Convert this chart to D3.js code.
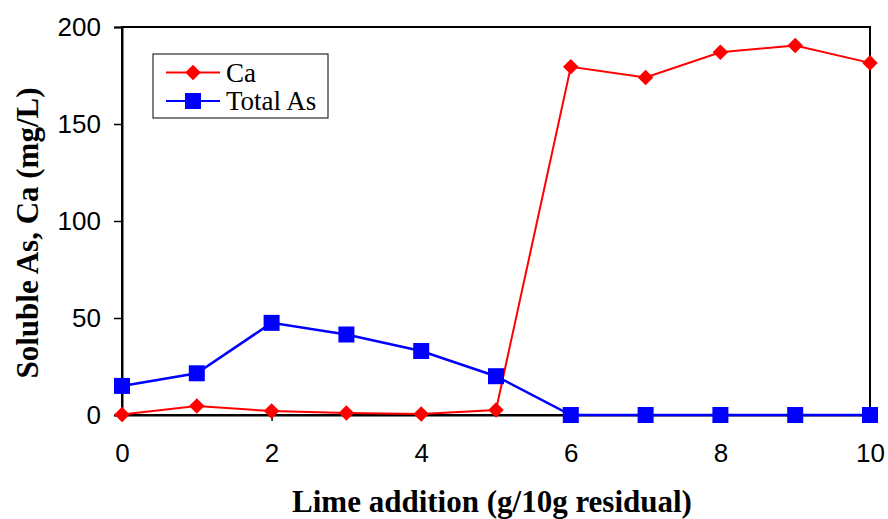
<!DOCTYPE html>
<html><head><meta charset="utf-8">
<script src="https://cdn.jsdelivr.net/npm/d3@7"></script>
<style>body{margin:0;background:#fff}svg{display:block}</style>
</head><body>
<script>
const xValues = [0,1,2,3,4,5,6,7,8,9,10];
const caValues = [0.3,4.6,2,1,0.5,2.6,179.5,174,187,190.5,181.5];
const asValues = [15,21.5,47.5,41.5,33,20,0,0,0,0,0];
const xTicks = [0,2,4,6,8,10];
const yTicks = [0,50,100,150,200];
const seriesNames = ["Ca","Total As"];

const W=888,H=519;
const m={l:122,r:18,t:27,b:104};
const svg=d3.select("body").append("svg").attr("width",W).attr("height",H);
const x=d3.scaleLinear().domain([0,10]).range([m.l,W-m.r]);
const y=d3.scaleLinear().domain([0,200]).range([H-m.b,m.t]);

svg.append("rect").attr("x",x(0)).attr("y",y(200)).attr("width",x(10)-x(0)).attr("height",y(0)-y(200))
  .attr("fill","none").attr("stroke","#000").attr("stroke-width",2);

const xa=svg.append("g").attr("transform",`translate(0,${y(0)})`)
  .call(d3.axisBottom(x).tickValues(xTicks).tickSize(6).tickPadding(23).tickFormat(d3.format("d")));
const ya=svg.append("g").attr("transform",`translate(${x(0)},0)`)
  .call(d3.axisLeft(y).tickValues(yTicks).tickSize(8).tickPadding(13).tickFormat(d3.format("d")));
[xa,ya].forEach(a=>{
  a.select(".domain").attr("stroke","#000").attr("stroke-width",2);
  a.selectAll(".tick line").attr("stroke","#000").attr("stroke-width",1.5);
  a.selectAll("text").attr("font-family","Liberation Sans, Arial, sans-serif").attr("font-size",26).attr("fill","#000");
});

const line=(vals)=>d3.line().x((d,i)=>x(xValues[i])).y(d=>y(d))(vals);
svg.append("path").attr("d",line(caValues)).attr("fill","none").attr("stroke","#ff0000").attr("stroke-width",2);
const diamond=d3.symbol().type(d3.symbolSquare).size(121);
svg.selectAll(".ca").data(caValues).enter().append("path")
  .attr("d",diamond).attr("fill","#ff0000")
  .attr("transform",(d,i)=>`translate(${x(xValues[i])},${y(d)}) rotate(45)`);
svg.append("path").attr("d",line(asValues)).attr("fill","none").attr("stroke","#0000ff").attr("stroke-width",2.5);
svg.selectAll(".as").data(asValues).enter().append("rect")
  .attr("x",(d,i)=>x(xValues[i])-8).attr("y",d=>y(d)-8).attr("width",16).attr("height",16).attr("fill","#0000ff");

const lg=svg.append("g");
lg.append("rect").attr("x",153).attr("y",54).attr("width",175).attr("height",64).attr("fill","#fff").attr("stroke","#000").attr("stroke-width",1);
const items=[{n:seriesNames[0],c:"#ff0000",t:"d",yy:72.5},{n:seriesNames[1],c:"#0000ff",t:"s",yy:101}];
items.forEach(it=>{
  lg.append("line").attr("x1",166).attr("x2",220).attr("y1",it.yy).attr("y2",it.yy).attr("stroke",it.c).attr("stroke-width",2);
  if(it.t==="d") lg.append("path").attr("d",diamond).attr("fill",it.c).attr("transform",`translate(193,${it.yy}) rotate(45)`);
  else lg.append("rect").attr("x",185).attr("y",it.yy-8).attr("width",16).attr("height",16).attr("fill",it.c);
  lg.append("text").attr("x",226).attr("y",it.yy+9).text(it.n).attr("font-family","Liberation Serif, Times New Roman, serif").attr("font-size",27);
});

svg.append("text").attr("x",492).attr("y",512).attr("text-anchor","middle")
  .attr("font-family","Liberation Serif, Times New Roman, serif").attr("font-weight","bold").attr("font-size",31)
  .text("Lime addition (g/10g residual)");
svg.append("text").attr("transform",`translate(38,233) rotate(-90)`).attr("text-anchor","middle")
  .attr("font-family","Liberation Serif, Times New Roman, serif").attr("font-weight","bold").attr("font-size",31)
  .text("Soluble As, Ca (mg/L)");
</script>
</body></html>
